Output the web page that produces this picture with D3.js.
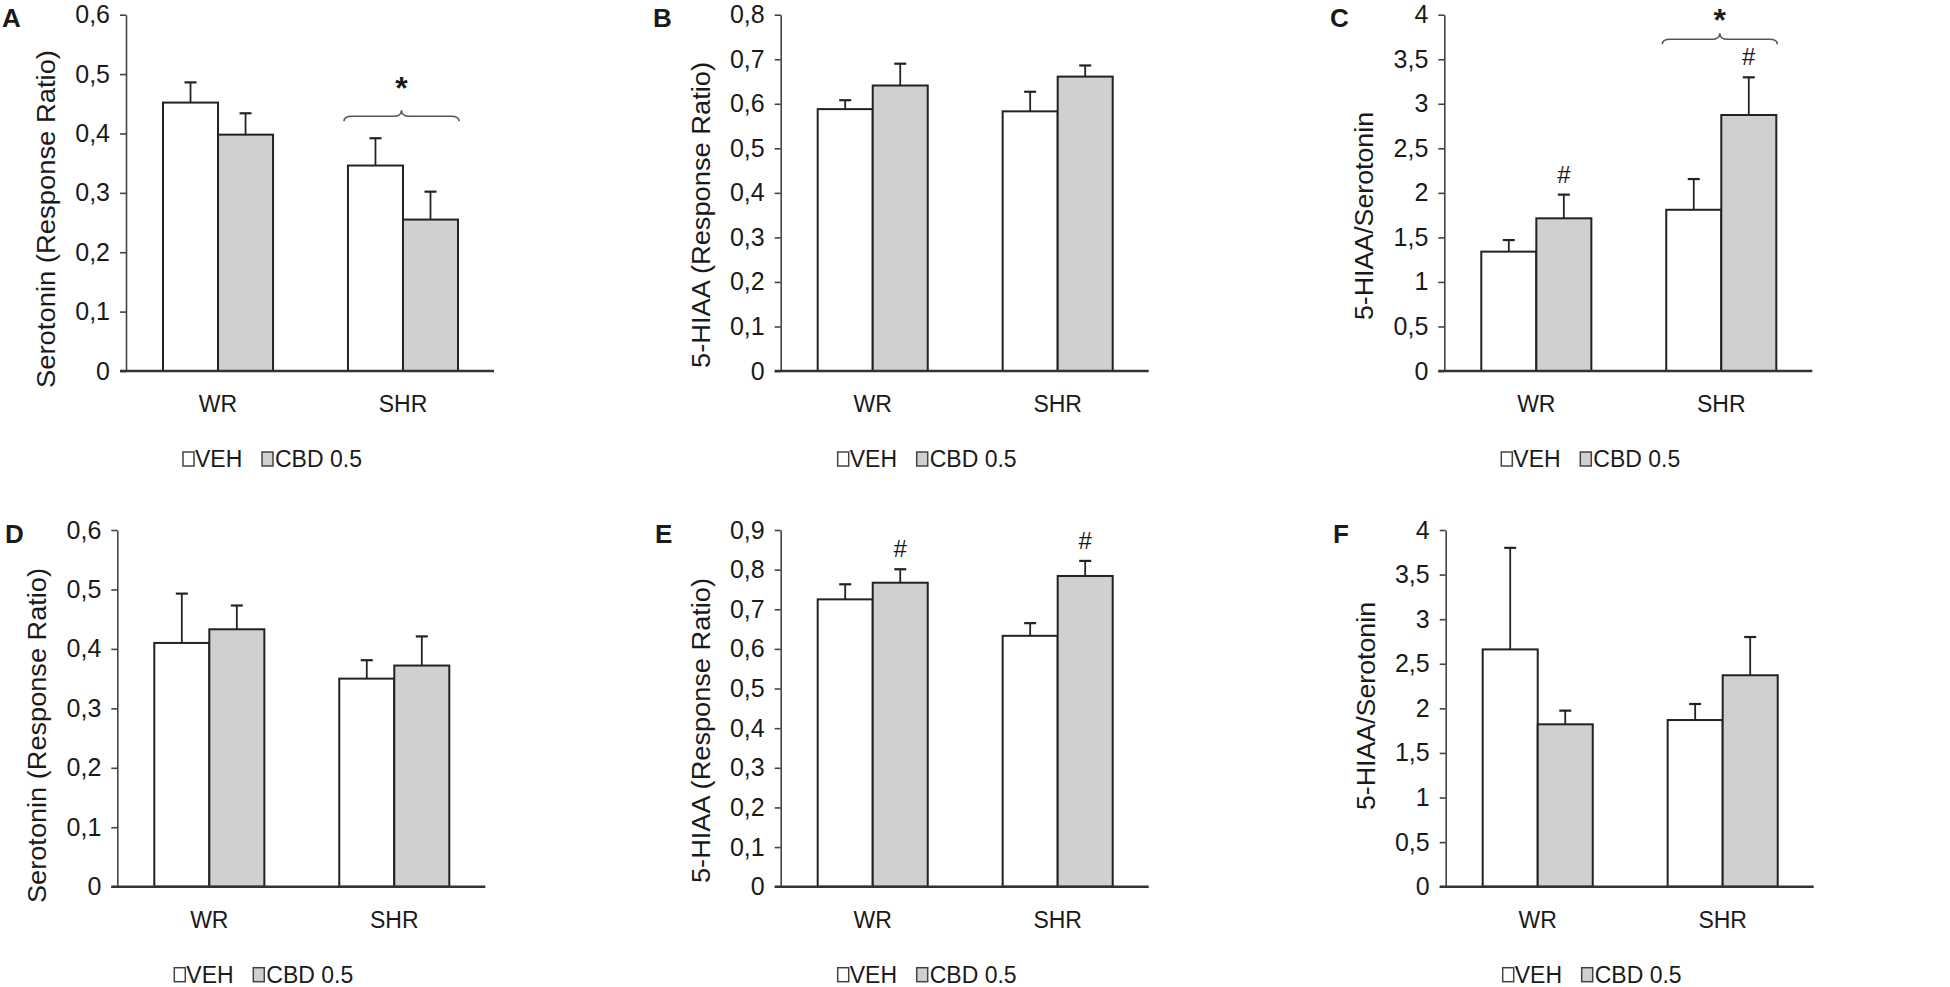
<!DOCTYPE html>
<html>
<head>
<meta charset="utf-8">
<script src="https://cdn.jsdelivr.net/npm/d3@7"></script>
<style>
  body { margin: 0; background: #fff; }
  svg text { font-family: "Liberation Sans", Arial, sans-serif; fill: #1a1a1a; }
</style>
</head>
<body>
<svg id="fig" width="1950" height="987"></svg>
<script>
// categories and series
const groups = ["WR", "SHR"];
const series = ["VEH", "CBD 0.5"];

// A - Serotonin, top row
const vehA = [0.452, 0.346], cbdA = [0.398, 0.255];
const vehErrA = [0.034, 0.046], cbdErrA = [0.036, 0.047];
const ticksA = [0, 0.1, 0.2, 0.3, 0.4, 0.5, 0.6];
// B - 5-HIAA, top row
const vehB = [0.588, 0.583], cbdB = [0.641, 0.661];
const vehErrB = [0.020, 0.044], cbdErrB = [0.049, 0.025];
const ticksB = [0, 0.1, 0.2, 0.3, 0.4, 0.5, 0.6, 0.7, 0.8];
// C - ratio, top row
const vehC = [1.34, 1.81], cbdC = [1.714, 2.874];
const vehErrC = [0.13, 0.345], cbdErrC = [0.266, 0.423];
const ticksC = [0, 0.5, 1, 1.5, 2, 2.5, 3, 3.5, 4];
// D - Serotonin, bottom row
const vehD = [0.410, 0.350], cbdD = [0.433, 0.372];
const vehErrD = [0.083, 0.031], cbdErrD = [0.040, 0.049];
const ticksD = [0, 0.1, 0.2, 0.3, 0.4, 0.5, 0.6];
// E - 5-HIAA, bottom row
const vehE = [0.725, 0.633], cbdE = [0.767, 0.784];
const vehErrE = [0.038, 0.032], cbdErrE = [0.034, 0.038];
const ticksE = [0, 0.1, 0.2, 0.3, 0.4, 0.5, 0.6, 0.7, 0.8, 0.9];
// F - ratio, bottom row
const vehF = [2.661, 1.869], cbdF = [1.821, 2.371];
const vehErrF = [1.139, 0.180], cbdErrF = [0.153, 0.429];
const ticksF = [0, 0.5, 1, 1.5, 2, 2.5, 3, 3.5, 4];

// significance marks: "#" over CBD bars, "*" with brace over a group
const hashC = ["WR", "SHR"], hashE = ["WR", "SHR"];
const braceA = { group: "SHR", at: 0.429, star: 0.49 };
const braceC = { group: "SHR", at: 3.724, star: 4.025 };

const panels = [
  { id: "A", title: "Serotonin (Response Ratio)", veh: vehA, cbd: cbdA, vehErr: vehErrA, cbdErr: cbdErrA, ticks: ticksA, hash: [], brace: braceA },
  { id: "B", title: "5-HIAA (Response Ratio)", veh: vehB, cbd: cbdB, vehErr: vehErrB, cbdErr: cbdErrB, ticks: ticksB, hash: [], brace: null },
  { id: "C", title: "5-HIAA/Serotonin", veh: vehC, cbd: cbdC, vehErr: vehErrC, cbdErr: cbdErrC, ticks: ticksC, hash: hashC, brace: braceC },
  { id: "D", title: "Serotonin (Response Ratio)", veh: vehD, cbd: cbdD, vehErr: vehErrD, cbdErr: cbdErrD, ticks: ticksD, hash: [], brace: null },
  { id: "E", title: "5-HIAA (Response Ratio)", veh: vehE, cbd: cbdE, vehErr: vehErrE, cbdErr: cbdErrE, ticks: ticksE, hash: hashE, brace: null },
  { id: "F", title: "5-HIAA/Serotonin", veh: vehF, cbd: cbdF, vehErr: vehErrF, cbdErr: cbdErrF, ticks: ticksF, hash: [], brace: null }
];

// where each panel sits on the page
const layout = {
  A: { ax: 126,    top: 14.7, bot: 371,   letter: [2, 27],     titleY: 219,   titleLen: 338 },
  B: { ax: 780.7,  top: 14.7, bot: 371,   letter: [653, 27],   titleY: 215,   titleLen: 306 },
  C: { ax: 1444.3, top: 14.7, bot: 371,   letter: [1330, 27],  titleY: 216,   titleLen: 208 },
  D: { ax: 117.3,  top: 530,  bot: 886.7, letter: [5, 543],    titleY: 735.5, titleLen: 335 },
  E: { ax: 780.7,  top: 530,  bot: 886.7, letter: [655, 543],  titleY: 730.5, titleLen: 305 },
  F: { ax: 1445.7, top: 530,  bot: 886.7, letter: [1333, 543], titleY: 706,   titleLen: 208 }
};

const fills = { "VEH": "#ffffff", "CBD 0.5": "#d0d0d0" };
const commaFmt = d3.formatLocale({ decimal: ",", thousands: ".", grouping: [3], currency: ["", ""] }).format(".2~f");

const svg = d3.select("#fig");

function drawPanel(p) {
  const L = layout[p.id];
  const g = svg.append("g").attr("transform", `translate(${L.ax},0)`);

  const y = d3.scaleLinear()
    .domain([0, d3.max(p.ticks)])
    .range([L.bot, L.top]);

  const x = d3.scaleBand()
    .domain(groups)
    .range([0, 369])
    .paddingInner(0.405)
    .paddingOuter(0.2);

  const xs = d3.scaleBand()
    .domain(series)
    .range([0, x.bandwidth()]);

  // y axis
  const yAxis = g.append("g")
    .call(d3.axisLeft(y).tickValues(p.ticks).tickFormat(commaFmt).tickSizeInner(6).tickSizeOuter(0).tickPadding(10));
  yAxis.select(".domain").attr("stroke", "#444").attr("stroke-width", 1.6);
  yAxis.selectAll(".tick line").attr("stroke", "#444").attr("stroke-width", 1.6);
  yAxis.selectAll(".tick text")
    .attr("fill", "#1a1a1a")
    .style("font-size", "25px")
    .style("font-family", "'Liberation Sans', Arial, sans-serif");

  // y title
  g.append("text")
    .attr("transform", `translate(-71,${L.titleY}) rotate(-90)`)
    .attr("text-anchor", "middle")
    .attr("textLength", L.titleLen)
    .attr("lengthAdjust", "spacingAndGlyphs")
    .style("font-size", "25px")
    .text(p.title);

  // bars
  const rows = [];
  groups.forEach((grp, i) => {
    rows.push({ grp, s: "VEH", v: p.veh[i], e: p.vehErr[i] });
    rows.push({ grp, s: "CBD 0.5", v: p.cbd[i], e: p.cbdErr[i] });
  });

  g.selectAll(".bar")
    .data(rows)
    .join("rect")
    .attr("class", "bar")
    .attr("x", d => x(d.grp) + xs(d.s))
    .attr("y", d => y(d.v))
    .attr("width", xs.bandwidth())
    .attr("height", d => y(0) - y(d.v))
    .attr("fill", d => fills[d.s])
    .attr("stroke", "#222")
    .attr("stroke-width", 2);

  // error bars (upper only)
  const cx = d => x(d.grp) + xs(d.s) + xs.bandwidth() / 2;
  g.selectAll(".err")
    .data(rows)
    .join("line")
    .attr("class", "err")
    .attr("x1", cx).attr("x2", cx)
    .attr("y1", d => y(d.v)).attr("y2", d => y(d.v + d.e))
    .attr("stroke", "#222").attr("stroke-width", 1.8);
  g.selectAll(".cap")
    .data(rows)
    .join("line")
    .attr("class", "cap")
    .attr("x1", d => cx(d) - 6).attr("x2", d => cx(d) + 6)
    .attr("y1", d => y(d.v + d.e)).attr("y2", d => y(d.v + d.e))
    .attr("stroke", "#222").attr("stroke-width", 2.2);

  // baseline
  g.append("line")
    .attr("x1", x.range()[0] - 6).attr("x2", x.range()[1] - 1)
    .attr("y1", y(0)).attr("y2", y(0))
    .attr("stroke", "#333").attr("stroke-width", 2.4);

  // category labels
  g.selectAll(".cat")
    .data(groups)
    .join("text")
    .attr("class", "cat")
    .attr("x", d => x(d) + x.bandwidth() / 2)
    .attr("y", y(0) + 41)
    .attr("text-anchor", "middle")
    .style("font-size", "23px")
    .text(d => d);

  // hash marks over CBD bars
  g.selectAll(".hash")
    .data(rows.filter(d => d.s === "CBD 0.5" && p.hash.includes(d.grp)))
    .join("text")
    .attr("class", "hash")
    .attr("x", cx)
    .attr("y", d => y(d.v + d.e) - 12)
    .attr("text-anchor", "middle")
    .style("font-size", "24px")
    .text("#");

  // brace with star
  if (p.brace) {
    const b = p.brace;
    const x0 = x(b.group) - 4, x1 = x(b.group) + x.bandwidth() + 1;
    const xm = (x0 + x1) / 2, yb = y(b.at);
    const path = d3.path();
    path.moveTo(x0, yb + 5);
    path.quadraticCurveTo(x0, yb, x0 + 8, yb);
    path.lineTo(xm - 8, yb);
    path.quadraticCurveTo(xm, yb, xm, yb - 6);
    path.quadraticCurveTo(xm, yb, xm + 8, yb);
    path.lineTo(x1 - 8, yb);
    path.quadraticCurveTo(x1, yb, x1, yb + 5);
    g.append("path")
      .attr("d", path.toString())
      .attr("fill", "none")
      .attr("stroke", "#555")
      .attr("stroke-width", 1.6);
    g.append("text")
      .attr("x", xm)
      .attr("y", y(b.star) + 19)
      .attr("text-anchor", "middle")
      .style("font-size", "32px")
      .style("font-weight", "bold")
      .text("*");
  }

  // legend
  const lg = g.append("g").attr("transform", `translate(0,${y(0) + 96})`);
  const items = [{ s: "VEH", bx: 57, tx: 69 }, { s: "CBD 0.5", bx: 136, tx: 149 }];
  lg.selectAll("rect")
    .data(items)
    .join("rect")
    .attr("x", d => d.bx).attr("y", -15)
    .attr("width", 11).attr("height", 14)
    .attr("fill", d => fills[d.s])
    .attr("stroke", "#444").attr("stroke-width", 1.5);
  lg.selectAll("text")
    .data(items)
    .join("text")
    .attr("x", d => d.tx).attr("y", 0)
    .style("font-size", "23px")
    .text(d => d.s);

  // panel letter
  svg.append("text")
    .attr("x", L.letter[0]).attr("y", L.letter[1])
    .style("font-size", "26px")
    .style("font-weight", "bold")
    .attr("fill", "#000")
    .text(p.id);
}

panels.forEach(drawPanel);
</script>
</body>
</html>
